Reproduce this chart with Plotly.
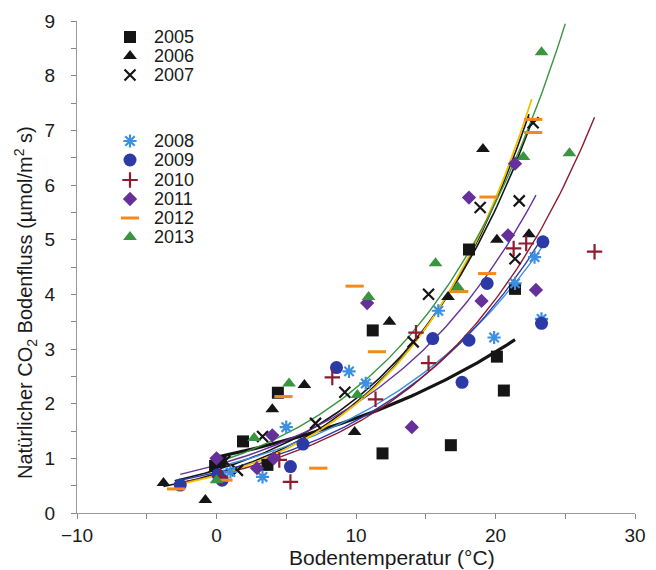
import numpy as np
import plotly.graph_objects as go

years = ["2005", "2006", "2007", "2008", "2009", "2010", "2011", "2012", "2013"]

t_2005 = [-0.1, 0.3, 1.9, 3.65, 4.4, 11.2, 11.9, 16.8, 18.1, 20.1, 20.6, 21.4]
f_2005 = [0.86, 0.95, 1.31, 0.88, 2.2, 3.34, 1.09, 1.24, 4.82, 2.86, 2.24, 4.1]

t_2006 = [-3.8, -0.8, 4.0, 6.3, 9.9, 12.4, 16.6, 19.1, 20.1, 22.4]
f_2006 = [0.55, 0.24, 1.9, 2.34, 1.48, 3.5, 3.95, 6.66, 5.0, 5.1]

t_2007 = [0.6, 1.5, 3.3, 7.1, 9.2, 14.1, 15.2, 18.9, 21.4, 21.7, 22.7]
f_2007 = [0.95, 0.78, 1.4, 1.64, 2.21, 3.13, 4.0, 5.59, 4.65, 5.71, 7.14]

t_2008 = [0.2, 1.0, 3.3, 5.0, 9.5, 10.7, 15.9, 19.9, 21.4, 22.8, 23.3]
f_2008 = [0.7, 0.75, 0.66, 1.57, 2.59, 2.37, 3.7, 3.21, 4.2, 4.68, 3.55]

t_2009 = [-2.6, 0.1, 0.4, 5.3, 6.2, 8.6, 15.5, 17.6, 18.1, 19.4, 23.3, 23.4]
f_2009 = [0.51, 0.7, 0.6, 0.85, 1.26, 2.66, 3.19, 2.39, 3.16, 4.2, 3.47, 4.96]

t_2010 = [0.3, 4.5, 5.3, 8.3, 11.4, 14.3, 15.2, 21.3, 22.2, 27.1]
f_2010 = [0.65, 0.97, 0.57, 2.48, 2.08, 3.3, 2.74, 4.84, 4.93, 4.78]

t_2011 = [0.0, 2.9, 4.0, 4.1, 10.8, 14.0, 18.1, 19.0, 20.9, 21.4, 22.9]
f_2011 = [1.0, 0.82, 1.42, 1.0, 3.84, 1.57, 5.77, 3.88, 5.08, 6.39, 4.08]

t_2012 = [-2.9, 0.5, 4.8, 7.3, 9.9, 11.5, 17.4, 19.4, 19.5, 22.7, 22.7]
f_2012 = [0.44, 0.6, 2.13, 0.82, 4.15, 2.95, 4.05, 4.38, 5.78, 6.96, 7.2]

t_2013 = [0.0, 2.7, 5.2, 10.1, 10.9, 15.7, 17.3, 22.0, 23.3, 25.3]
f_2013 = [0.6, 1.37, 2.37, 2.16, 3.95, 4.57, 4.13, 6.51, 8.43, 6.58]

temps = [t_2005, t_2006, t_2007, t_2008, t_2009, t_2010, t_2011, t_2012, t_2013]
fluxes = [f_2005, f_2006, f_2007, f_2008, f_2009, f_2010, f_2011, f_2012, f_2013]

# exponential fit parameters flux = a * exp(b * T), drawn over [tmin, tmax]
fit_a = [1.02, 0.718, 0.79, 0.835, 0.742, 0.689, 0.875, 0.69, 0.92]
fit_b = [0.053, 0.1035, 0.0975, 0.0755, 0.082, 0.0868, 0.0827, 0.106, 0.091]
fit_tmin = [-0.1, -3.8, -3.0, 0.0, -2.6, -3.0, -2.6, -2.9, 0.0]
fit_tmax = [21.4, 22.4, 22.7, 23.3, 23.4, 27.1, 22.9, 22.6, 25.0]

colors = ["#151515", "#151515", "#151515", "#3d8fe0", "#2c3aa6", "#8e1c2e", "#66309a", "#f08a1c", "#3a9440"]
line_colors = ["#151515", "#151515", "#151515", "#3d8fe0", "#2c3aa6", "#8e1c2e", "#66309a", "#f2c100", "#3a9440"]
line_widths = [3.2, 1.6, 1.6, 1.4, 1.4, 1.4, 1.4, 1.8, 1.4]
symbols = ["square", "triangle-up", "x-thin-open", "asterisk-open", "circle", "cross-thin-open",
           "diamond", "line-ew-open", "triangle-up"]
sizes = [12, 12, 11, 11, 13, 11, 11, 13, 12]

x_title = "Bodentemperatur (°C)"
y_title = "Natürlicher CO<sub>2</sub> Bodenfluss (µmol/m<sup>2</sup> s)"

# layout in page pixels
W, H = 656, 570
ML, MR, MT, MB = 77, 21, 21, 57
PW, PH = W - ML - MR, H - MT - MB
leg_marker_x = 130
leg_text_x = 152
leg_rows_y = [37, 56, 75, 141, 160, 180, 199, 218, 237]
x_title_pos = (392, 557)
y_title_pos = (25, 303)

font_family = "Arial, Liberation Sans, sans-serif"


def px_to_paper(px, py):
    return (px - ML) / PW, (H - MB - py) / PH


def marker_style(i, size):
    sym = symbols[i]
    if sym.endswith("open"):
        return dict(symbol=sym, size=size, color=colors[i],
                    line=dict(color=colors[i], width=3 if sym.startswith("line") else 2.2))
    return dict(symbol=sym, size=size, color=colors[i], line=dict(width=0))


fig = go.Figure()

for i in range(len(years)):
    tt = np.linspace(fit_tmin[i], fit_tmax[i], 120)
    fig.add_trace(go.Scatter(
        x=tt, y=fit_a[i] * np.exp(fit_b[i] * tt), mode="lines",
        line=dict(color=line_colors[i], width=line_widths[i]),
        showlegend=False, hoverinfo="skip"))

for i in range(len(years)):
    fig.add_trace(go.Scatter(
        x=temps[i], y=fluxes[i], mode="markers", name=years[i],
        marker=marker_style(i, sizes[i]), showlegend=False))

# manual legend: markers on a pixel-coordinate overlay axis, labels as paper annotations
for i in range(len(years)):
    fig.add_trace(go.Scatter(
        x=[leg_marker_x], y=[leg_rows_y[i]], mode="markers",
        marker=marker_style(i, sizes[i]), xaxis="x2", yaxis="y2",
        showlegend=False, hoverinfo="skip"))
    px, py = px_to_paper(leg_text_x, leg_rows_y[i])
    fig.add_annotation(x=px, y=py, xref="paper", yref="paper",
                       text=years[i], showarrow=False, xanchor="left", yanchor="middle",
                       font=dict(size=18, color="#1a1a1a", family=font_family))

px, py = px_to_paper(*x_title_pos)
fig.add_annotation(x=px, y=py, xref="paper", yref="paper", text=x_title, showarrow=False,
                   xanchor="center", yanchor="middle",
                   font=dict(size=21, color="#1a1a1a", family=font_family))
px, py = px_to_paper(*y_title_pos)
fig.add_annotation(x=px, y=py, xref="paper", yref="paper", text=y_title, showarrow=False,
                   textangle=-90, xanchor="center", yanchor="middle",
                   font=dict(size=20, color="#1a1a1a", family=font_family))

fig.update_layout(
    width=W, height=H,
    margin=dict(l=ML, r=MR, t=MT, b=MB),
    paper_bgcolor="white", plot_bgcolor="white",
    font=dict(family=font_family, size=16, color="#1a1a1a"),
    showlegend=False,
    xaxis=dict(range=[-10, 30], tickmode="linear", tick0=-10, dtick=10,
               ticks="outside", ticklen=5, tickcolor="#888", showgrid=False, zeroline=False,
               showline=True, linecolor="#999", linewidth=1, automargin=False,
               tickfont=dict(size=19),
               minor=dict(dtick=5, ticks="outside", ticklen=5, tickcolor="#888")),
    yaxis=dict(range=[0, 9], tickmode="linear", tick0=0, dtick=1,
               ticks="outside", ticklen=5, tickcolor="#888", showgrid=False, zeroline=False,
               showline=True, linecolor="#999", linewidth=1, automargin=False,
               tickfont=dict(size=19), ticklabelstandoff=12,
               minor=dict(dtick=0.5, ticks="outside", ticklen=5, tickcolor="#888")),
    xaxis2=dict(range=[ML, W - MR], overlaying="x", visible=False, fixedrange=True),
    yaxis2=dict(range=[H - MB, MT], overlaying="y", visible=False, fixedrange=True),
)

fig.write_html("out.html", config={"displayModeBar": False},
               post_script="document.body.style.margin='0px';document.body.style.padding='0px';")
